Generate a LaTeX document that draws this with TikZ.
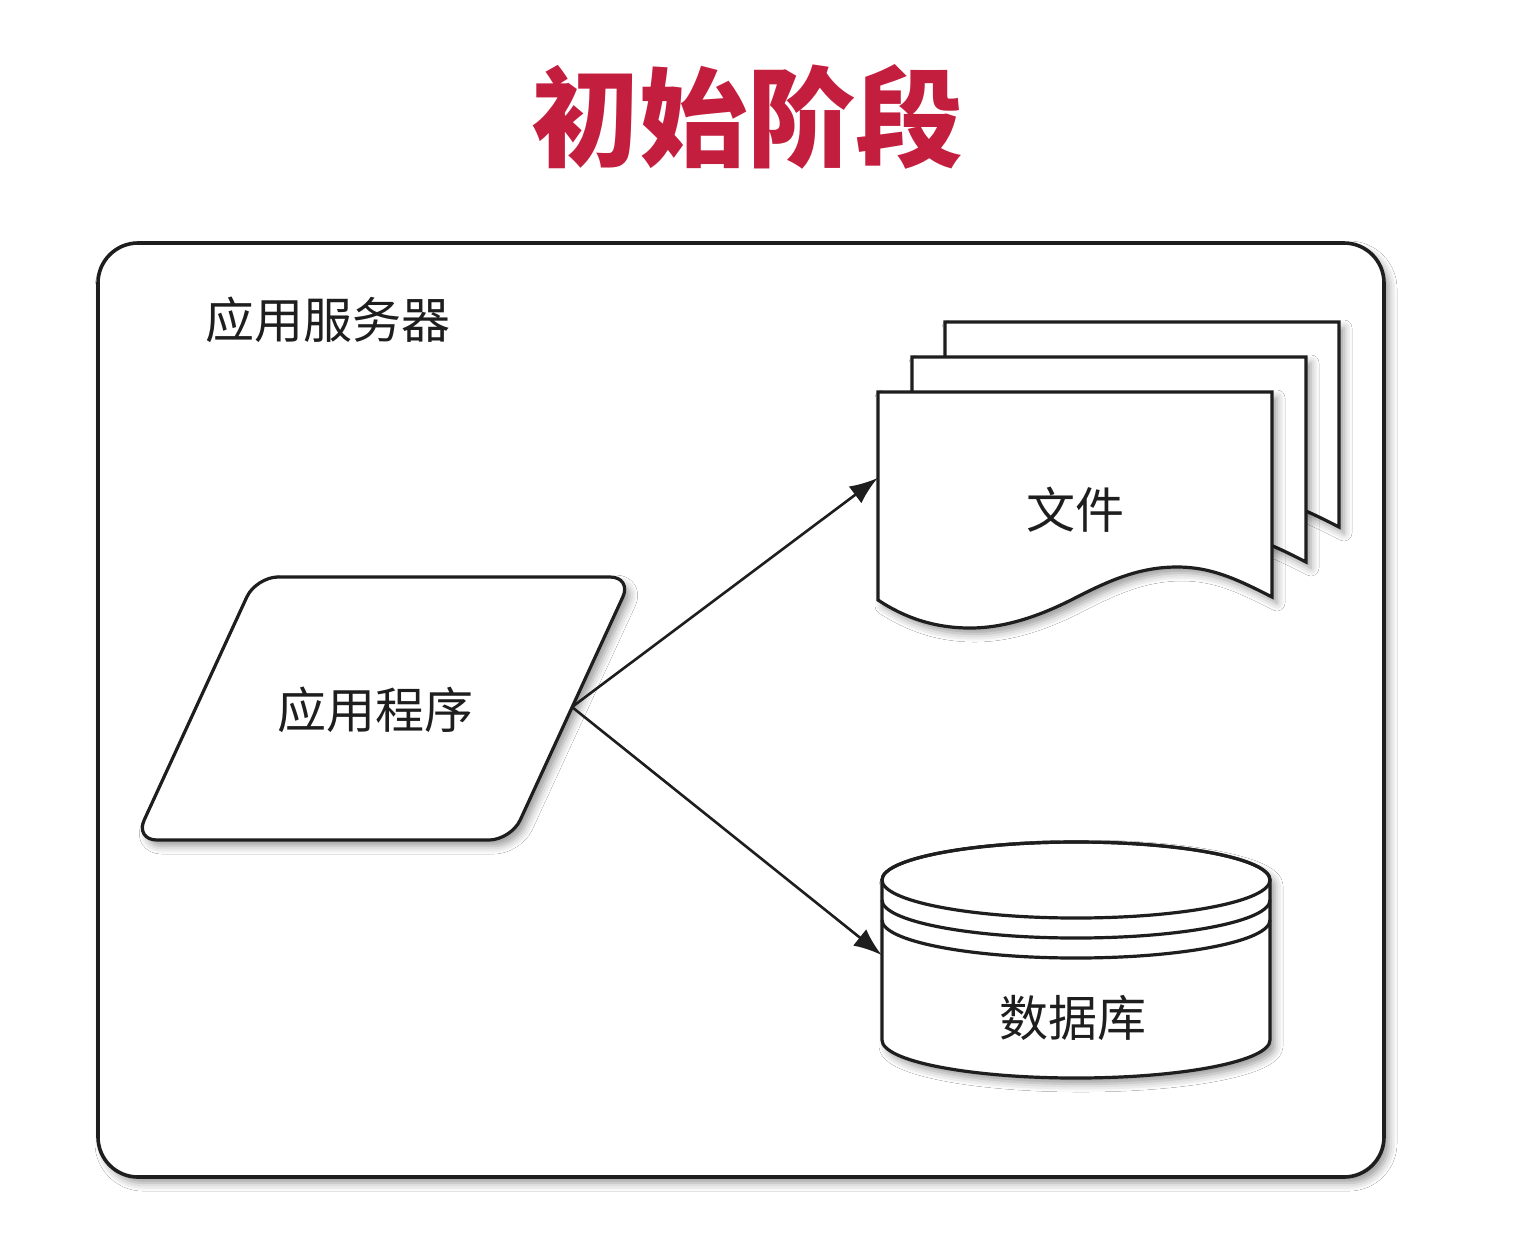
\documentclass[tikz,border=0pt]{standalone}
\usepackage{fontspec}
\newfontfamily\cjk{Noto Sans CJK SC}
\usetikzlibrary{arrows.meta,shadows.blur}
\definecolor{titlered}{HTML}{C41E3F}
\definecolor{ink}{HTML}{1E1E1E}
\begin{document}
\begin{tikzpicture}[x=0.5pt,y=-0.5pt,
  outline/.style={draw=ink,line width=1.6pt,fill=white},
  label/.style={font=\cjk\fontsize{24.5pt}{26pt}\selectfont,text=ink,inner sep=0pt},
  hidden/.style={inner sep=0pt,draw=none},
  flow/.style={draw=ink,line width=1.3pt,-{Latex[length=14pt,width=10.5pt]}},
  soft/.style={blur shadow={shadow xshift=2.5pt,shadow yshift=-3pt,shadow blur radius=4pt,shadow opacity=40}}]

\fill[white] (0,0) rectangle (1520,1244);
\useasboundingbox (0,0) rectangle (1520,1244);

% heading
\node[font=\cjk\bfseries\fontsize{54pt}{56pt}\selectfont,text=titlered,inner sep=0pt] (title) at (747,117) {初始阶段};

% application server frame
\draw[outline,line width=1.8pt,rounded corners=20pt,soft] (98,243) rectangle (1384,1177);
\node[label] (srv) at (328,320) {应用服务器};

% application (parallelogram)
\draw[outline,rounded corners=11pt,soft] (256,577) -- (632,577) -- (511,840) -- (135,840) -- cycle;
\node[label] (app) at (375,710) {应用程序};
\coordinate (appout) at (572,707);

% stacked documents, back to front
\foreach \dx/\dy in {67/-70,34/-35,0/0}{
  \draw[outline,soft,shift={(\dx,\dy)}]
    (878,392) -- (1272,392) -- (1272,597)
    .. controls (1235,578) and (1210,567) .. (1177,567)
    .. controls (1140,567) and (1110,580) .. (1075,598)
    .. controls (1040,616) and (1005,628) .. (970,628)
    .. controls (935,628) and (905,618) .. (878,600) -- cycle;
}
\node[hidden,minimum width=197pt,minimum height=118pt,label] (doc) at (1075,510) {文件};

% database cylinder
\draw[outline,soft] (882,880) -- (882,1040)
  arc[start angle=180,end angle=0,x radius=194,y radius=38] -- (1270,880)
  arc[start angle=360,end angle=180,x radius=194,y radius=38] -- cycle;
\draw[draw=ink,line width=1.6pt] (1076,880) ellipse [x radius=194,y radius=38];
\draw[draw=ink,line width=1.6pt] (882,900) arc[start angle=180,end angle=0,x radius=194,y radius=38];
\draw[draw=ink,line width=1.6pt] (882,920) arc[start angle=180,end angle=0,x radius=194,y radius=38];
\node[hidden,minimum width=194pt,minimum height=118pt] (db) at (1076,960) {};
\node[label] (dblabel) at (1073,1018) {数据库};

% data flows
\draw[flow] (appout) -- ([yshift=16pt]doc.west);
\draw[flow] (appout) -- ([yshift=2.5pt]db.west);
\end{tikzpicture}
\end{document}
